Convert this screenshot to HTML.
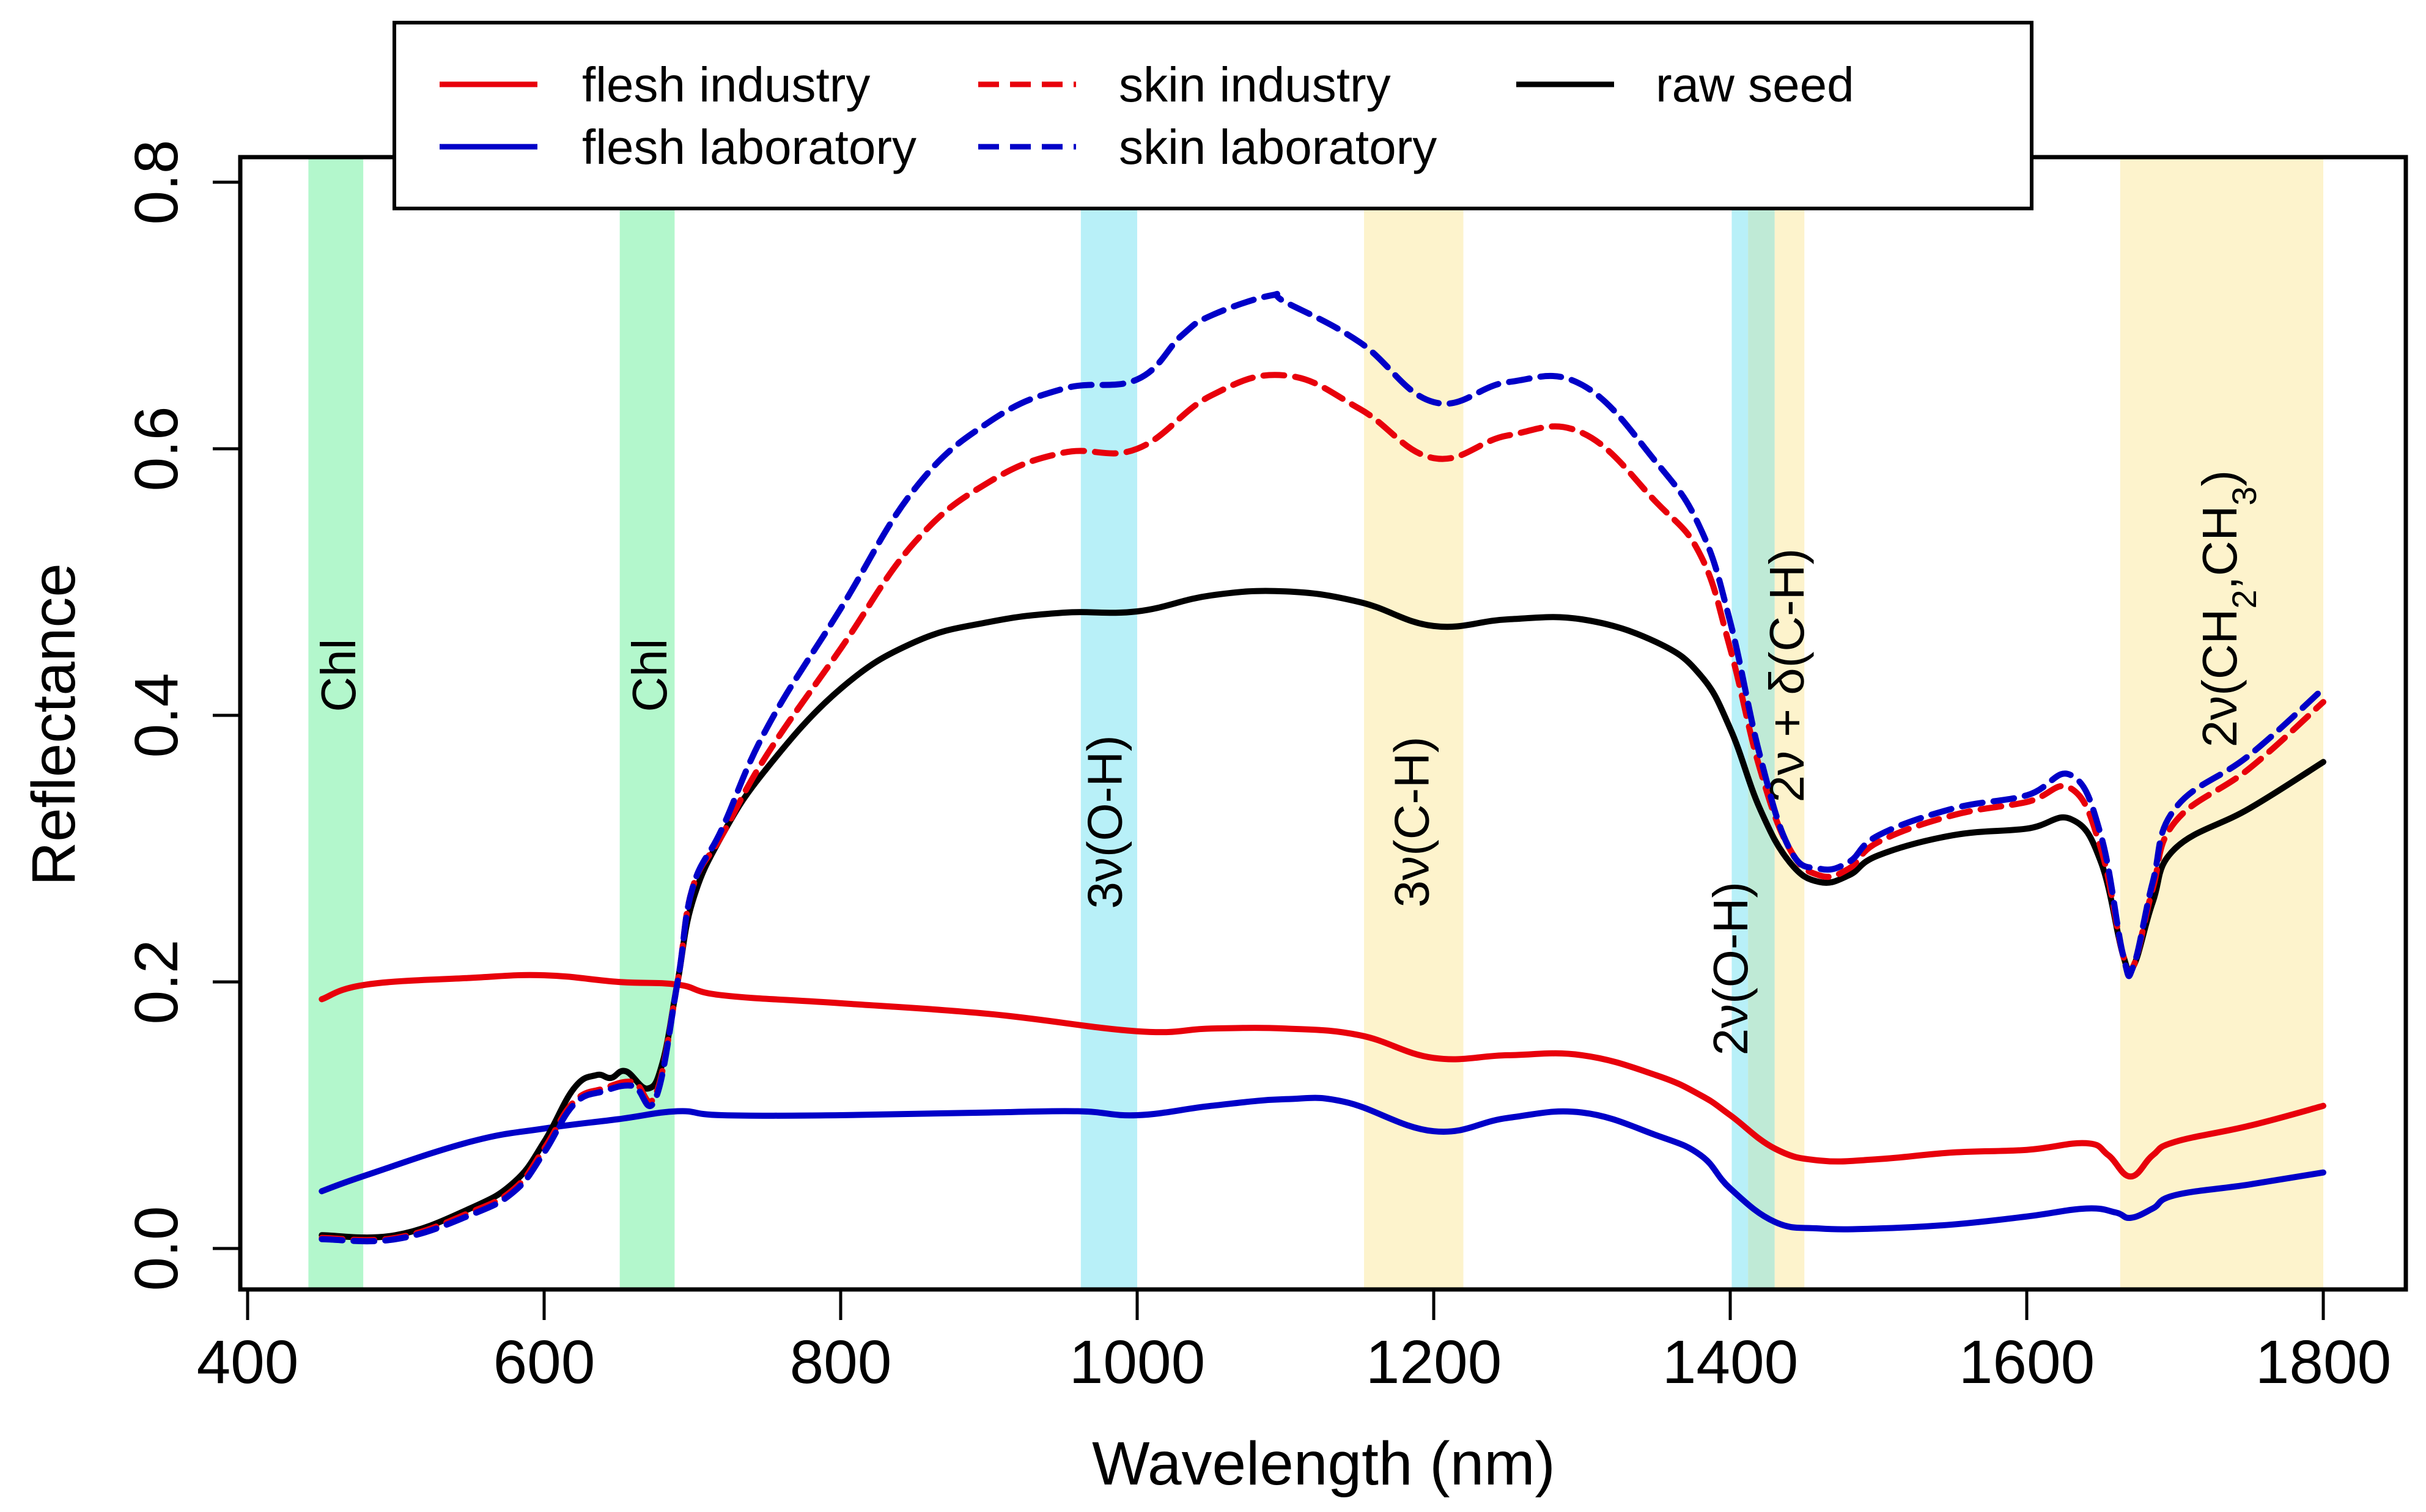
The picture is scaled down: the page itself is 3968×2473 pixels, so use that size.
<!DOCTYPE html>
<html><head><meta charset="utf-8"><style>
html,body{margin:0;padding:0;background:#fff;}
svg{display:block;font-family:"Liberation Sans",Arial,sans-serif;}
</style></head><body>
<svg id="chart" width="3968" height="2473" viewBox="0 0 3968 2473" xmlns="http://www.w3.org/2000/svg">
<g id="bands"></g>
<g id="bandlabels"></g>
<g id="series"></g>
<g id="axes"></g>
<g id="legend"></g>
</svg>
<script>
// ---- data ----
const xTicks = [400, 600, 800, 1000, 1200, 1400, 1600, 1800];
const yTicks = [0.0, 0.2, 0.4, 0.6, 0.8];
const yTickLabels = ["0.0", "0.2", "0.4", "0.6", "0.8"];
const bandStarts = [441, 651, 962, 1153, 1401, 1412, 1430, 1663];
const bandEnds   = [478, 688, 1000, 1220, 1412, 1430, 1450, 1800];
const bandKinds  = ["green","green","blue","yellow","blue","mix","yellow","yellow"];
const labelTexts = ["Chl","Chl","3ν(O-H)","3ν(C-H)","2ν(O-H)","2ν + δ(C-H)","2ν(CH2,CH3)"];
const labelNm    = [461, 671, 978, 1185, 1400, 1438, 1730];
const labelVal   = [0.43, 0.43, 0.32, 0.32, 0.21, 0.43, 0.48];

const rawX = [450,500,550,580,600,620,635,645,655,670,680,690,700,720,750,800,850,900,950,1000,1050,1100,1150,1200,1250,1300,1350,1380,1400,1420,1440,1460,1480,1500,1550,1600,1630,1650,1665,1672,1685,1700,1750,1800];
const rawY = [0.01,0.01,0.03,0.05,0.08,0.12,0.13,0.128,0.133,0.12,0.14,0.2,0.26,0.31,0.36,0.42,0.455,0.47,0.477,0.478,0.49,0.493,0.485,0.467,0.472,0.472,0.455,0.43,0.39,0.33,0.29,0.275,0.28,0.295,0.31,0.315,0.322,0.29,0.22,0.212,0.26,0.3,0.33,0.365];

const skinIndX = [450,500,550,580,600,620,640,660,675,690,700,720,750,800,850,900,950,1000,1050,1100,1150,1200,1250,1300,1350,1380,1400,1420,1440,1460,1480,1500,1550,1600,1630,1650,1665,1672,1685,1700,1750,1800];
const skinIndY = [0.008,0.008,0.027,0.045,0.075,0.11,0.12,0.125,0.115,0.2,0.27,0.31,0.37,0.45,0.53,0.575,0.597,0.6,0.64,0.655,0.63,0.593,0.61,0.612,0.56,0.52,0.45,0.36,0.3,0.28,0.285,0.305,0.325,0.335,0.345,0.3,0.22,0.212,0.27,0.32,0.36,0.41];

const skinLabX = [450,500,550,580,600,620,640,660,675,690,700,720,750,800,850,900,950,1000,1030,1050,1090,1100,1150,1200,1250,1300,1350,1380,1400,1420,1440,1460,1480,1500,1550,1600,1630,1650,1665,1672,1685,1700,1750,1800];
const skinLabY = [0.007,0.007,0.025,0.043,0.072,0.108,0.118,0.122,0.112,0.2,0.27,0.315,0.39,0.48,0.57,0.62,0.645,0.652,0.685,0.7,0.715,0.71,0.68,0.635,0.65,0.648,0.59,0.54,0.47,0.37,0.3,0.285,0.29,0.31,0.33,0.34,0.355,0.31,0.22,0.212,0.275,0.33,0.37,0.42];

const fleshIndX = [450,480,550,600,650,690,720,800,900,1000,1050,1100,1150,1200,1250,1300,1350,1380,1400,1430,1460,1500,1550,1600,1640,1655,1670,1685,1700,1750,1800];
const fleshIndY = [0.187,0.198,0.203,0.205,0.2,0.198,0.19,0.184,0.176,0.163,0.165,0.165,0.16,0.143,0.145,0.145,0.13,0.115,0.1,0.075,0.066,0.067,0.072,0.074,0.079,0.07,0.054,0.07,0.08,0.092,0.107];

const fleshLabX = [450,480,550,600,650,690,720,800,900,960,1000,1050,1100,1140,1200,1250,1300,1350,1380,1400,1430,1460,1500,1550,1600,1640,1660,1670,1685,1700,1750,1800];
const fleshLabY = [0.043,0.055,0.08,0.09,0.097,0.103,0.1,0.1,0.102,0.103,0.1,0.107,0.112,0.11,0.088,0.098,0.102,0.085,0.07,0.045,0.02,0.015,0.015,0.018,0.024,0.03,0.027,0.023,0.03,0.04,0.048,0.057];

// ---- scales ----
const X0 = 405, PX_PER_NM = 485/200;
const Y0 = 2042, PX_PER_UNIT = 436/0.2;
const xs = v => X0 + (v - 400) * PX_PER_NM;
const ys = v => Y0 - v * PX_PER_UNIT;
const PL = 393, PR = 3935, PT = 257, PB = 2109;
const NS = "http://www.w3.org/2000/svg";
function mk(tag, parent, attrs){ const e=document.createElementNS(NS,tag); for(const k in attrs) e.setAttribute(k,attrs[k]); parent.appendChild(e); return e; }
const colors = {green:"#b3f7cc", blue:"#b8f0f8", yellow:"#fdf3cc", mix:"#bfead6"};

// bands
const gB = document.getElementById('bands');
bandStarts.forEach((s,i)=>{
  const r = mk('rect', gB, {x: xs(s), y: PT, width: xs(bandEnds[i]) - xs(s), height: PB - PT, fill: colors[bandKinds[i]]});
  
  
});

// band labels
const gL = document.getElementById('bandlabels');
labelTexts.forEach((t,i)=>{
  const cx = xs(labelNm[i]) + 28, cy = ys(labelVal[i]);
  const tx = mk('text', gL, {x: cx, y: cy, 'font-size': 80, 'text-anchor':'middle', fill:'#000', transform:`rotate(-90 ${cx} ${cy})`});
  
  
  if (t === "2ν(CH2,CH3)") {
    tx.innerHTML = '2ν(CH<tspan baseline-shift="sub" font-size="56">2</tspan>,CH<tspan baseline-shift="sub" font-size="56">3</tspan>)';
  } else tx.textContent = t;
});

// series (Catmull-Rom smoothed)
const gS = document.getElementById('series');
function smoothPath(xa, ya){
  const P = xa.map((x,i)=>[xs(x), ys(ya[i])]);
  let d = 'M' + P[0][0].toFixed(1) + ',' + P[0][1].toFixed(1);
  const t = 0.4;
  for (let i=0;i<P.length-1;i++){
    const p0 = P[Math.max(0,i-1)], p1 = P[i], p2 = P[i+1], p3 = P[Math.min(P.length-1,i+2)];
    const c1x = p1[0] + (p2[0]-p0[0])*t/2, c1y = p1[1] + (p2[1]-p0[1])*t/2;
    const c2x = p2[0] - (p3[0]-p1[0])*t/2, c2y = p2[1] - (p3[1]-p1[1])*t/2;
    d += ` C${c1x.toFixed(1)},${c1y.toFixed(1)} ${c2x.toFixed(1)},${c2y.toFixed(1)} ${p2[0].toFixed(1)},${p2[1].toFixed(1)}`;
  }
  return d;
}
function line(xa, ya, color, dash, name){
  const p = mk('path', gS, {d: smoothPath(xa, ya), fill:'none', stroke: color, 'stroke-width': 10, 'stroke-linejoin':'round', 'stroke-linecap':'round'});
  if (dash) p.setAttribute('stroke-dasharray', dash);
  
  
}
line(fleshIndX, fleshIndY, '#e8000b', null, 'flesh-industry-line');
line(fleshLabX, fleshLabY, '#0000c8', null, 'flesh-laboratory-line');
line(rawX, rawY, '#000', null, 'raw-seed-line');
line(skinIndX, skinIndY, '#e8000b', '34,18', 'skin-industry-line');
line(skinLabX, skinLabY, '#0000c8', '34,18', 'skin-laboratory-line');

// axes
const gA = document.getElementById('axes');
const frame = mk('rect', gA, {x: PL, y: PT, width: PR-PL, height: PB-PT, fill:'none', stroke:'#000', 'stroke-width':7});


xTicks.forEach(v=>{
  const t = mk('line', gA, {x1: xs(v), x2: xs(v), y1: PB, y2: PB+50, stroke:'#000', 'stroke-width':5});
  
  
  const l = mk('text', gA, {x: xs(v), y: 2262, 'font-size': 100, 'text-anchor':'middle', fill:'#000'});
  l.textContent = v;
  
  
});
yTicks.forEach((v,i)=>{
  const t = mk('line', gA, {x1: PL-45, x2: PL, y1: ys(v), y2: ys(v), stroke:'#000', 'stroke-width':5});
  
  
  const lx = 290, ly = ys(v);
  const l = mk('text', gA, {x: lx, y: ly, 'font-size': 100, 'text-anchor':'middle', fill:'#000', transform:`rotate(-90 ${lx} ${ly})`});
  l.textContent = yTickLabels[i];
  
  
});
const xt = mk('text', gA, {x: 2165, y: 2428, 'font-size': 100, 'text-anchor':'middle', fill:'#000'});
xt.textContent = 'Wavelength (nm)';


const yt = mk('text', gA, {x: 122, y: 1185, 'font-size': 100, 'text-anchor':'middle', fill:'#000', transform:'rotate(-90 122 1185)'});
yt.textContent = 'Reflectance';



// legend
const gLg = document.getElementById('legend');
const lb = mk('rect', gLg, {x: 645, y: 37, width: 2678, height: 304, fill:'#fff', stroke:'#000', 'stroke-width':6});


const legNames = ['flesh industry','flesh laboratory','skin industry','skin laboratory','raw seed'];
const legColors = ['#e8000b','#0000c8','#e8000b','#0000c8','#000'];
const legDash = [null,null,'34,18','34,18',null];
const legCol = [0,0,1,1,2];
const legRow = [0,1,0,1,0];
const colLineX = [719, 1600, 2480];
const colTextX = [952, 1830, 2708];
const rowY = [138, 240];
legNames.forEach((n,i)=>{
  const y = rowY[legRow[i]], c = legCol[i];
  const ln = mk('line', gLg, {x1: colLineX[c], x2: colLineX[c]+160, y1: y, y2: y, stroke: legColors[i], 'stroke-width': 9});
  if (legDash[i]) ln.setAttribute('stroke-dasharray', legDash[i]);
  
  
  const t = mk('text', gLg, {x: colTextX[c], y: y + 28, 'font-size': 80, fill:'#000'});
  t.textContent = n;
  
  
});
</script>
</body></html>
